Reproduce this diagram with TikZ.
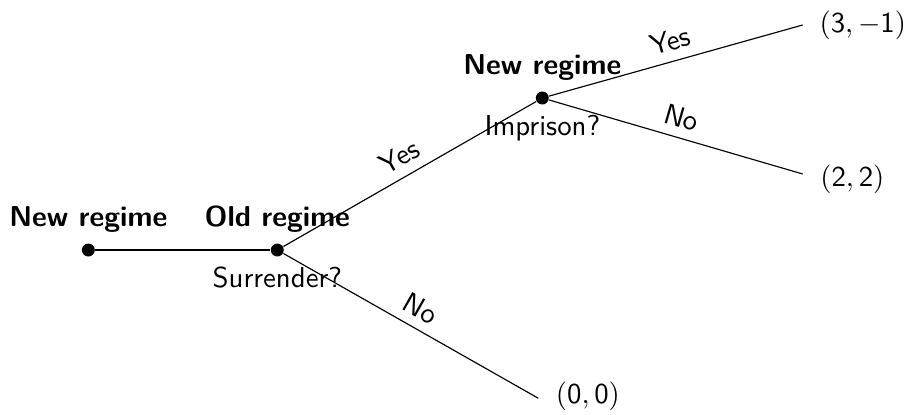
\documentclass[tikz,border=0pt]{standalone}
\tikzset{
    move/.style = {circle, fill, inner sep = 0pt, minimum size = 4.5pt},
    player/.style = {font = \sffamily\bfseries},
    outcome/.style = {anchor = west},
}
\begin{document}
\begin{tikzpicture}[font = \sffamily]
    \useasboundingbox (0,0) rectangle (11.105,5.064);
    \node[move, label = {[player]above:New regime}] (root) at (1.078,2.013) {};
    \node[move, label = {[player]above:Old regime}, label = below:Surrender?] (old) at (3.384,2.013) {};
    \node[move, label = {[player]above:New regime}, label = below:Imprison?] (new) at (6.618,3.868) {};
    \coordinate (endA) at (9.795,4.759);
    \coordinate (endB) at (9.795,2.941);
    \coordinate (endC) at (6.569,0.204);
    \node[outcome] (payA) at (9.878,4.753) {$\mathsf{(3,-1)}$};
    \node[outcome] (payB) at (9.887,2.880) {$\mathsf{(2,2)}$};
    \node[outcome] (payC) at (6.660,0.226) {$\mathsf{(0,0)}$};
    \draw (root) -- (old);
    \draw (old) -- node[midway, above, sloped] {Yes} (new);
    \draw (old) -- node[midway, above, sloped] {No} (endC);
    \draw (new) -- node[midway, above, sloped] {Yes} (endA);
    \draw (new) -- node[midway, above, sloped] {No} (endB);
\end{tikzpicture}
\end{document}
